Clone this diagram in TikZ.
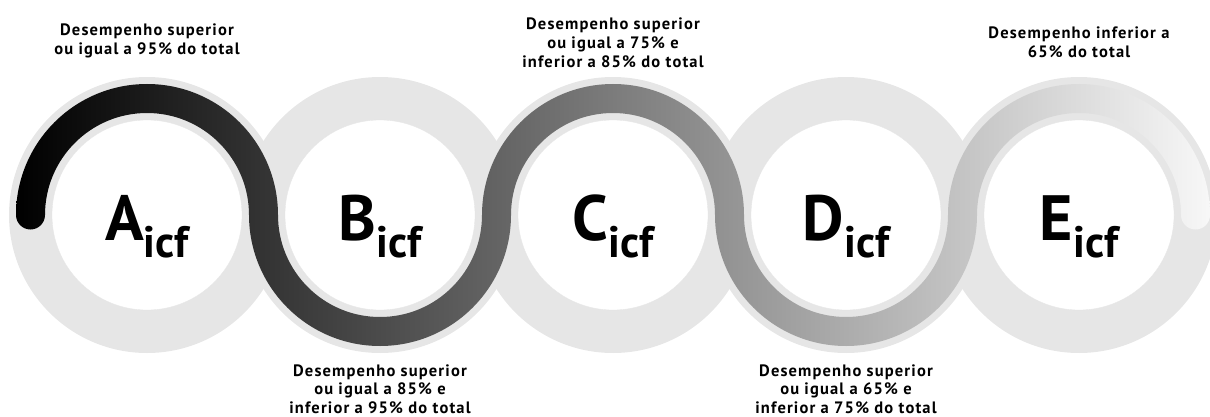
\documentclass[tikz,border=0pt]{standalone}
\usepackage{fontspec}
\setmainfont{PT Sans}
\newfontfamily\lblfont{PT Sans}[LetterSpace=7]
\usepackage{xcolor}
\usepackage{tikz}
\definecolor{ringgray}{RGB}{230, 230, 230}
\usetikzlibrary{positioning, calc}

\begin{document}
\begin{tikzpicture}[
    x=1pt, y=1pt,
    ring/.style={circle, fill=ringgray, draw=none, inner sep=0pt,
                minimum size=276pt},
    disc/.style={circle, fill=white, draw=black!10, line width=0.3pt,
                inner sep=0pt, minimum size=190pt},
    letter/.style={anchor=base, inner sep=0pt,
                font=\bfseries\fontsize{64}{64}\selectfont},
    lbl/.style={align=center, inner sep=0pt,
                font=\lblfont\bfseries\fontsize{16.5}{18.8}\selectfont},
    wave/.style={left color=black, middle color=black!40,
                right color=white!97!black}
]
    \useasboundingbox (0,0) rectangle (1210,416);

    % Rings
    \node[ring] (ringA) at (147,201) {};
    \node[ring] (ringB) at (380,201) {};
    \node[ring] (ringC) at (613,201) {};
    \node[ring] (ringD) at (846,201) {};
    \node[ring] (ringE) at (1079,201) {};

    % Inner discs
    \node[disc] (discA) at (ringA) {};
    \node[disc] (discB) at (ringB) {};
    \node[disc] (discC) at (ringC) {};
    \node[disc] (discD) at (ringD) {};
    \node[disc] (discE) at (ringE) {};

    % Wave
    \shade[wave]
        ([xshift=-131pt]ringA.center) arc[start angle=180, end angle=0, radius=131pt]
            -- ([xshift=102pt]ringA.center) arc[start angle=0, end angle=180, radius=102pt] -- cycle
        ([xshift=-131pt]ringB.center) arc[start angle=180, end angle=360, radius=131pt]
            -- ([xshift=102pt]ringB.center) arc[start angle=0, end angle=-180, radius=102pt] -- cycle
        ([xshift=-131pt]ringC.center) arc[start angle=180, end angle=0, radius=131pt]
            -- ([xshift=102pt]ringC.center) arc[start angle=0, end angle=180, radius=102pt] -- cycle
        ([xshift=-131pt]ringD.center) arc[start angle=180, end angle=360, radius=131pt]
            -- ([xshift=102pt]ringD.center) arc[start angle=0, end angle=-180, radius=102pt] -- cycle
        ([xshift=-131pt]ringE.center) arc[start angle=180, end angle=0, radius=131pt]
            -- ([xshift=102pt]ringE.center) arc[start angle=0, end angle=180, radius=102pt] -- cycle
        ([xshift=-131pt]ringA.center) arc[start angle=180, end angle=360, radius=14.5pt] -- cycle
        ([xshift=102pt]ringE.center) arc[start angle=180, end angle=360, radius=14.5pt] -- cycle;

    % Letters
    \node[letter] (lettA) at ([yshift=-25pt]ringA.center) {A\raisebox{-17pt}{\fontsize{44}{44}\selectfont icf}};
    \node[letter] (lettB) at ([yshift=-25pt]ringB.center) {B\raisebox{-17pt}{\fontsize{44}{44}\selectfont icf}};
    \node[letter] (lettC) at ([yshift=-25pt]ringC.center) {C\raisebox{-17pt}{\fontsize{44}{44}\selectfont icf}};
    \node[letter] (lettD) at ([yshift=-25pt]ringD.center) {D\raisebox{-17pt}{\fontsize{44}{44}\selectfont icf}};
    \node[letter] (lettE) at ([yshift=-25pt]ringE.center) {E\raisebox{-17pt}{\fontsize{44}{44}\selectfont icf}};

    % Labels
    \node[lbl, above=19pt of ringA] (labA) {Desempenho superior\\ou igual a 95\% do total};
    \node[lbl, below=11pt of ringB] (labB) {Desempenho superior\\ou igual a 85\% e\\inferior a 95\% do total};
    \node[lbl, above=9pt of ringC] (labC) {Desempenho superior\\ou igual a 75\% e\\inferior a 85\% do total};
    \node[lbl, below=11pt of ringD] (labD) {Desempenho superior\\ou igual a 65\% e\\inferior a 75\% do total};
    \node[lbl, above=19pt of ringE] (labE) {Desempenho inferior a\\65\% do total};
\end{tikzpicture}
\end{document}
